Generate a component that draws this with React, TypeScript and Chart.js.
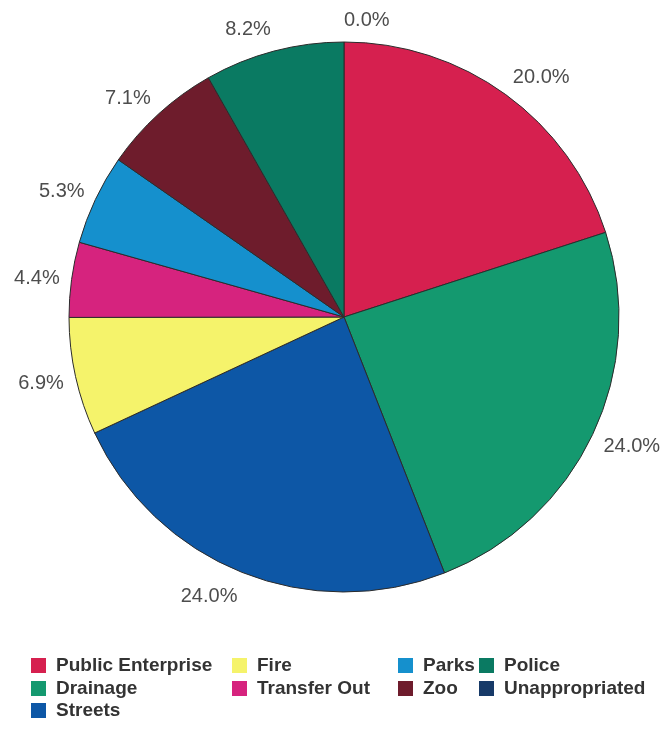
import React, { useEffect, useRef } from "react";
import { Chart, registerables } from "chart.js";

Chart.register(...registerables);

const categories = [
  "Public Enterprise",
  "Drainage",
  "Streets",
  "Fire",
  "Transfer Out",
  "Parks",
  "Zoo",
  "Police",
  "Unappropriated",
];
const values = [20.0, 24.0, 24.0, 6.9, 4.4, 5.3, 7.1, 8.2, 0.0];
const colors = [
  "#d6204f",
  "#14996f",
  "#0d57a6",
  "#f5f36b",
  "#d6237e",
  "#1590cd",
  "#6e1c2c",
  "#0a7a62",
  "#173a68",
];

// legend layout: columns (column-major ordering of items)
const legendColumnSizes = [3, 2, 2, 2];
const legendColumnX = [31, 232, 398, 479];
const legendRowY = [665, 688, 710];

const FONT = "'Liberation Sans', Arial, Helvetica, sans-serif";

const percentLabels = {
  id: "percentLabels",
  afterDatasetsDraw(chart: any) {
    const ctx = chart.ctx;
    const meta = chart.getDatasetMeta(0);
    ctx.save();
    ctx.font = `20px ${FONT}`;
    ctx.fillStyle = "#4d4d4d";
    ctx.textBaseline = "middle";
    meta.data.forEach((arc: any, i: number) => {
      const p = arc.getProps(["x", "y", "startAngle", "endAngle", "outerRadius"], true);
      const mid = (p.startAngle + p.endAngle) / 2;
      const d = p.outerRadius + 12;
      const cx = Math.cos(mid);
      const cy = Math.sin(mid);
      const ax = p.x + d * cx;
      const ay = p.y + d * cy;
      ctx.textAlign = cx >= -1e-6 ? "left" : "right";
      const ty = ay + cy * 12 + 2;
      ctx.fillText(values[i].toFixed(1) + "%", ax, ty);
    });
    ctx.restore();
  },
};

const gridLegend = {
  id: "gridLegend",
  afterDraw(chart: any) {
    const ctx = chart.ctx;
    ctx.save();
    ctx.font = `bold 19px ${FONT}`;
    ctx.textBaseline = "middle";
    ctx.textAlign = "left";
    let idx = 0;
    legendColumnSizes.forEach((n, c) => {
      for (let r = 0; r < n; r++) {
        const x = legendColumnX[c];
        const y = legendRowY[r];
        ctx.fillStyle = colors[idx];
        ctx.fillRect(x, y - 7, 15, 15);
        ctx.fillStyle = "#333333";
        ctx.fillText(categories[idx], x + 25, y + 1);
        idx++;
      }
    });
    ctx.restore();
  },
};

export default function App() {
  const ref = useRef<HTMLCanvasElement>(null);
  useEffect(() => {
    if (!ref.current) return;
    const chart = new Chart(ref.current, {
      type: "pie",
      data: {
        labels: categories,
        datasets: [
          {
            data: values,
            backgroundColor: colors,
            borderColor: "#2b2b2b",
            borderWidth: 1,
            radius: 275,
          } as any,
        ],
      },
      options: {
        responsive: false,
        animation: false,
        layout: { padding: { left: 40, right: 20, top: 0, bottom: 98 } },
        plugins: {
          legend: { display: false },
          tooltip: { enabled: false },
        },
      },
      plugins: [percentLabels, gridLegend],
    });
    return () => chart.destroy();
  }, []);
  return (
    <div style={{ position: "absolute", left: 0, top: 0, width: 668, height: 732, background: "#fff" }}>
      <canvas ref={ref} width={668} height={732} />
    </div>
  );
}
